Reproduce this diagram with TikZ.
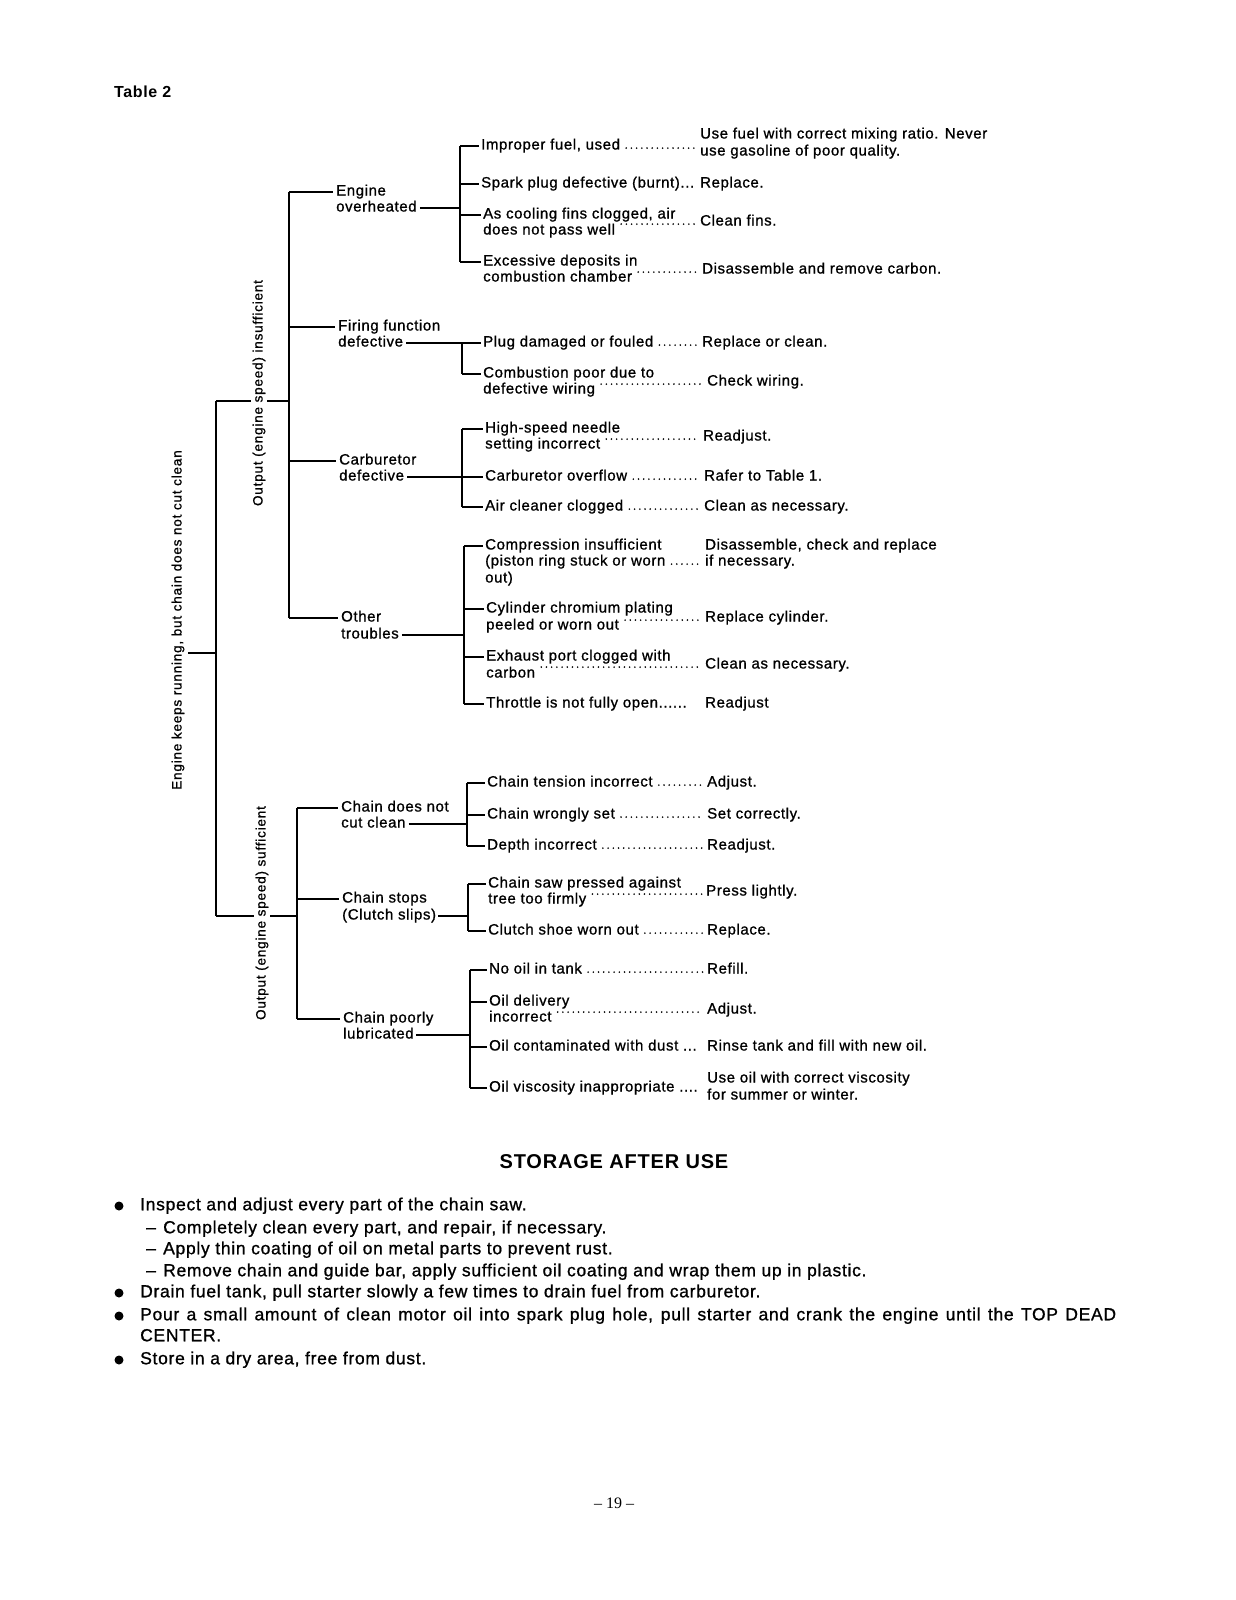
\documentclass[tikz,border=0pt]{standalone}
\usepackage{fontspec}
\setmainfont{Liberation Sans}
\newfontfamily\chartfont{Liberation Sans}[LetterSpace=4,FakeBold=1]
\newfontfamily\rotfont{Liberation Sans}[LetterSpace=6,FakeBold=1]
\newfontfamily\storfont{Liberation Sans}[LetterSpace=4,FakeBold=1]
\newfontfamily\headfont{Liberation Sans}[LetterSpace=4]
\newfontfamily\numfont{Liberation Serif}
\usetikzlibrary{calc}
\tikzset{
  txt/.style={anchor=west, inner sep=0pt, text height=10pt, text depth=3pt, font=\chartfont\fontsize{15}{17}\selectfont},
  conn/.style={line width=1.6pt},
  lead/.style={line width=1.8pt, line cap=round, dash pattern=on 0pt off 5.2pt},
  rot/.style={rotate=90, inner sep=1.5pt, font=\rotfont\fontsize{13.5}{16}\selectfont},
  stor/.style={anchor=west, inner sep=0pt, text height=12pt, text depth=3.5pt, font=\storfont\fontsize{17.5}{20}\selectfont},
  bul/.style={circle, fill=black, inner sep=0pt, minimum size=9pt},
}
\newcommand\dotlead[3]{\draw[lead] ($(#1.base east |- #2.base)+(6,-1.4)$) -- ($(#3.base west |- #2.base)+(-4,-1.4)$);}
\begin{document}
\begin{tikzpicture}[x=1pt,y=-1pt]
\fill[white] (0,0) rectangle (1236,1600);
\useasboundingbox (0,0) rectangle (1236,1600);

\node[anchor=west, inner sep=0pt, font=\headfont\bfseries\fontsize{16}{18}\selectfont] (tab) at (114,92) {Table 2};

% ---------- level 2 texts
\node[txt] (A1) at (336,192) {Engine};
\node[txt] (A1b) at (336,208) {overheated};
\node[txt] (A2) at (338,327) {Firing function};
\node[txt] (A2b) at (338,343) {defective};
\node[txt] (A3) at (339,461) {Carburetor};
\node[txt] (A3b) at (339,477) {defective};
\node[txt] (A4) at (341,618) {Other};
\node[txt] (A4b) at (341,635) {troubles};
\node[txt] (B1) at (341,808) {Chain does not};
\node[txt] (B1b) at (341,824) {cut clean};
\node[txt] (B2) at (342,899) {Chain stops};
\node[txt] (B2b) at (342,916) {(Clutch slips)};
\node[txt] (B3) at (343,1019) {Chain poorly};
\node[txt] (B3b) at (343,1035) {lubricated};

% ---------- causes
\node[txt] (c11) at (481,146) {Improper fuel, used};
\node[txt] (c12) at (481,184) {Spark plug defective (burnt)...};
\node[txt] (c13a) at (483,215) {As cooling fins clogged, air};
\node[txt] (c13b) at (483,231) {does not pass well};
\node[txt] (c14a) at (483,262) {Excessive deposits in};
\node[txt] (c14b) at (483,278) {combustion chamber};

\node[txt] (c21) at (483,343) {Plug damaged or fouled};
\node[txt] (c22a) at (483,374) {Combustion poor due to};
\node[txt] (c22b) at (483,390) {defective wiring};

\node[txt] (c31a) at (485,429) {High-speed needle};
\node[txt] (c31b) at (485,445) {setting incorrect};
\node[txt] (c32) at (485,477) {Carburetor overflow};
\node[txt] (c33) at (485,507) {Air cleaner clogged};

\node[txt] (c41a) at (485,546) {Compression insufficient};
\node[txt] (c41b) at (485,562) {(piston ring stuck or worn};
\node[txt] (c41c) at (485,579) {out)};
\node[txt] (c42a) at (486,609) {Cylinder chromium plating};
\node[txt] (c42b) at (486,626) {peeled or worn out};
\node[txt] (c43a) at (486,657) {Exhaust port clogged with};
\node[txt] (c43b) at (486,674) {carbon};
\node[txt] (c44) at (486,704) {Throttle is not fully open......};

\node[txt] (d11) at (487,783) {Chain tension incorrect};
\node[txt] (d12) at (487,815) {Chain wrongly set};
\node[txt] (d13) at (487,846) {Depth incorrect};

\node[txt] (d21a) at (488,884) {Chain saw pressed against};
\node[txt] (d21b) at (488,900) {tree too firmly};
\node[txt] (d22) at (488,931) {Clutch shoe worn out};

\node[txt] (d31) at (489,970) {No oil in tank};
\node[txt] (d32a) at (489,1002) {Oil delivery};
\node[txt] (d32b) at (489,1018) {incorrect};
\node[txt] (d33) at (489,1047) {Oil contaminated with dust ...};
\node[txt] (d34) at (489,1088) {Oil viscosity inappropriate ....};

% ---------- remedies
\node[txt] (r11a) at (700,135) {Use fuel with correct mixing ratio. Never};
\node[txt] (r11b) at (700,152) {use gasoline of poor quality.};
\node[txt] (r12) at (700,184) {Replace.};
\node[txt] (r13) at (700,222) {Clean fins.};
\node[txt] (r14) at (702,270) {Disassemble and remove carbon.};
\node[txt] (r21) at (702,343) {Replace or clean.};
\node[txt] (r22) at (707,382) {Check wiring.};
\node[txt] (r31) at (703,437) {Readjust.};
\node[txt] (r32) at (704,477) {Rafer to Table 1.};
\node[txt] (r33) at (704,507) {Clean as necessary.};
\node[txt] (r41a) at (705,546) {Disassemble, check and replace};
\node[txt] (r41b) at (705,562) {if necessary.};
\node[txt] (r42) at (705,618) {Replace cylinder.};
\node[txt] (r43) at (705,665) {Clean as necessary.};
\node[txt] (r44) at (705,704) {Readjust};
\node[txt] (d11r) at (707,783) {Adjust.};
\node[txt] (d12r) at (707,815) {Set correctly.};
\node[txt] (d13r) at (707,846) {Readjust.};
\node[txt] (d21r) at (706,892) {Press lightly.};
\node[txt] (d22r) at (707,931) {Replace.};
\node[txt] (d31r) at (707,970) {Refill.};
\node[txt] (d32r) at (707,1010) {Adjust.};
\node[txt] (d33r) at (707,1047) {Rinse tank and fill with new oil.};
\node[txt] (d34ra) at (707,1079) {Use oil with correct viscosity};
\node[txt] (d34rb) at (707,1096) {for summer or winter.};

% ---------- leaders
\dotlead{c11}{c11}{r11a}
\dotlead{c13b}{r13}{r13}
\dotlead{c14b}{r14}{r14}
\dotlead{c21}{c21}{r21}
\dotlead{c22b}{r22}{r22}
\dotlead{c31b}{r31}{r31}
\dotlead{c32}{c32}{r32}
\dotlead{c33}{c33}{r33}
\dotlead{c41b}{c41b}{r41a}
\dotlead{c42b}{r42}{r42}
\dotlead{c43b}{r43}{r43}
\dotlead{d11}{d11}{d11r}
\dotlead{d12}{d12}{d12r}
\dotlead{d13}{d13}{d13r}
\dotlead{d21b}{d21r}{d21r}
\dotlead{d22}{d22}{d22r}
\dotlead{d31}{d31}{d31r}
\dotlead{d32b}{d32r}{d32r}

% ---------- tree connectors
\coordinate (vMain) at (216,0);
\coordinate (vIns) at (289,0);
\coordinate (vSuf) at (297,0);
\coordinate (vA1) at (460,0);
\coordinate (vA2) at (462,0);
\coordinate (vA3) at (462,0);
\coordinate (vA4) at (464,0);
\coordinate (vB1) at (467,0);
\coordinate (vB2) at (468,0);
\coordinate (vB3) at (470,0);
\coordinate (jIns) at (216,401);
\coordinate (jSuf) at (216,916);
\coordinate (rootend) at (188,653);

\draw[conn] (jIns) -- (jSuf);
\draw[conn] (rootend) -- (rootend -| vMain);
\draw[conn] (jIns) -- (jIns -| vIns);
\draw[conn] (jSuf) -- (jSuf -| vSuf);

\draw[conn] (A1.west -| vIns) -- (A4.west -| vIns);
\foreach \n in {A1,A2,A3,A4} \draw[conn] (\n.west -| vIns) -- ([xshift=-3pt]\n.west);
\draw[conn] (B1.west -| vSuf) -- (B3.west -| vSuf);
\foreach \n in {B1,B2,B3} \draw[conn] (\n.west -| vSuf) -- ([xshift=-3pt]\n.west);

% group A1
\draw[conn] (c11.west -| vA1) -- (c14a.west -| vA1);
\foreach \n in {c11,c12,c13a,c14a} \draw[conn] (\n.west -| vA1) -- ([xshift=-2pt]\n.west);
\draw[conn] ([xshift=3pt]A1b.east) -- (A1b.east -| vA1);
% group A2
\draw[conn] (c21.west -| vA2) -- (c22a.west -| vA2);
\foreach \n in {c21,c22a} \draw[conn] (\n.west -| vA2) -- ([xshift=-2pt]\n.west);
\draw[conn] ([xshift=3pt]A2b.east) -- (A2b.east -| vA2);
% group A3
\draw[conn] (c31a.west -| vA3) -- (c33.west -| vA3);
\foreach \n in {c31a,c32,c33} \draw[conn] (\n.west -| vA3) -- ([xshift=-2pt]\n.west);
\draw[conn] ([xshift=3pt]A3b.east) -- (A3b.east -| vA3);
% group A4
\draw[conn] (c41a.west -| vA4) -- (c44.west -| vA4);
\foreach \n in {c41a,c42a,c43a,c44} \draw[conn] (\n.west -| vA4) -- ([xshift=-2pt]\n.west);
\draw[conn] ([xshift=3pt]A4b.east) -- (A4b.east -| vA4);
% group B1
\draw[conn] (d11.west -| vB1) -- (d13.west -| vB1);
\foreach \n in {d11,d12,d13} \draw[conn] (\n.west -| vB1) -- ([xshift=-2pt]\n.west);
\draw[conn] ([xshift=3pt]B1b.east) -- (B1b.east -| vB1);
% group B2
\draw[conn] (d21a.west -| vB2) -- (d22.west -| vB2);
\foreach \n in {d21a,d22} \draw[conn] (\n.west -| vB2) -- ([xshift=-2pt]\n.west);
\draw[conn] ([xshift=2pt]B2b.east) -- (B2b.east -| vB2);
% group B3
\draw[conn] (d31.west -| vB3) -- (d34.west -| vB3);
\foreach \n in {d31,d32a,d33,d34} \draw[conn] (\n.west -| vB3) -- ([xshift=-2pt]\n.west);
\draw[conn] ([xshift=2pt]B3b.east) -- (B3b.east -| vB3);

% rotated labels
\node[rot] (root) at (178,620) {Engine keeps running, but chain does not cut clean};
\node[rot, fill=white] (ins) at (259,393) {Output (engine speed) insufficient};
\node[rot, fill=white] (suf) at (262,913) {Output (engine speed) sufficient};

% ---------- storage
\node[inner sep=0pt, font=\headfont\bfseries\fontsize{20}{23}\selectfont] (title) at (614,1162) {STORAGE AFTER USE};

\node[bul] (b1) at (119,1206) {};
\node[stor] (s1) at (140,1206) {Inspect and adjust every part of the chain saw.};
\node[stor] (s2d) at (146,1229) {–};
\node[stor] (s2) at (163,1229) {Completely clean every part, and repair, if necessary.};
\node[stor] (s3d) at (146,1250) {–};
\node[stor] (s3) at (163,1250) {Apply thin coating of oil on metal parts to prevent rust.};
\node[stor] (s4d) at (146,1272) {–};
\node[stor] (s4) at (163,1272) {Remove chain and guide bar, apply sufficient oil coating and wrap them up in plastic.};
\node[bul] (b5) at (119,1293) {};
\node[stor] (s5) at (140,1293) {Drain fuel tank, pull starter slowly a few times to drain fuel from carburetor.};
\node[bul] (b6) at (119,1316) {};
\node[stor] (s6) at (140,1316) {\makebox[976pt][s]{Pour a small amount of clean motor oil into spark plug hole, pull starter and crank the engine until the TOP DEAD}};
\node[stor] (s7) at (140,1337) {CENTER.};
\node[bul] (b8) at (119,1360) {};
\node[stor] (s8) at (140,1360) {Store in a dry area, free from dust.};

\node[inner sep=0pt, font=\numfont\fontsize{16}{18}\selectfont] (pg) at (614,1503) {– 19 –};
\end{tikzpicture}
\end{document}
